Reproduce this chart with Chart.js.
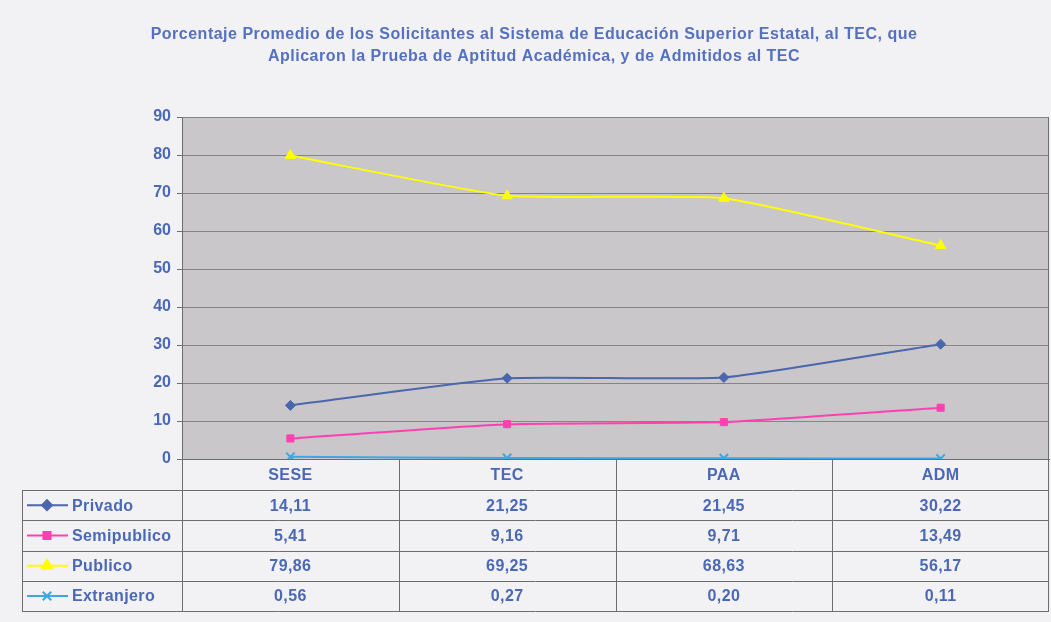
<!DOCTYPE html>
<html>
<head>
<meta charset="utf-8">
<script src="https://cdn.jsdelivr.net/npm/chart.js@4/dist/chart.umd.min.js"></script>
<style>
  html, body { margin: 0; padding: 0; background: #f2f1f4; }
  #wrap { width: 1051px; height: 622px; }
</style>
</head>
<body>
<div id="wrap"><canvas id="chart" width="1051" height="622"></canvas></div>
<script>
const TITLE = [
    'Porcentaje Promedio de los Solicitantes al Sistema de Educación Superior Estatal, al TEC, que',
    'Aplicaron la Prueba de Aptitud Académica, y de Admitidos al TEC'
];
const CATEGORIES = ['SESE', 'TEC', 'PAA', 'ADM'];
const SERIES_NAMES = ['Privado', 'Semipublico', 'Publico', 'Extranjero'];
const PRIVADO = [14.11, 21.25, 21.45, 30.22];
const SEMIPUBLICO = [5.41, 9.16, 9.71, 13.49];
const PUBLICO = [79.86, 69.25, 68.63, 56.17];
const EXTRANJERO = [0.56, 0.27, 0.20, 0.11];

const TEXT = '#4a68b6';
const FONT = "'Liberation Sans', Arial, sans-serif";
const LINE = '#6e6e6e';

const STYLES = [
    { color: '#4a66ac', pointStyle: 'rectRot', radius: 5 },
    { color: '#ff40b0', pointStyle: 'rect', radius: 5 },
    { color: '#ffff00', pointStyle: 'triangle', radius: 6 },
    { color: '#3ea6e4', pointStyle: 'crossRot', radius: 6 }
];

const fmt = v => v.toFixed(2).replace('.', ',');

const bgPlugin = {
    id: 'bg',
    beforeDraw(chart) {
        const { ctx, chartArea: a } = chart;
        ctx.save();
        ctx.fillStyle = '#f2f1f4';
        ctx.fillRect(0, 0, chart.width, chart.height);
        ctx.fillStyle = '#c9c7ca';
        ctx.fillRect(a.left, a.top, a.right - a.left, a.bottom - a.top);
        ctx.fillStyle = '#5570c0';
        ctx.font = 'bold 16px ' + FONT;
        ctx.letterSpacing = '0.5px';
        ctx.textAlign = 'center';
        ctx.textBaseline = 'middle';
        ctx.fillText(TITLE[0], 534, 35);
        ctx.fillText(TITLE[1], 534, 57);
        ctx.restore();
    }
};

const tablePlugin = {
    id: 'dataTable',
    afterDraw(chart) {
        const { ctx, chartArea: a, scales: { x } } = chart;
        const headH = 31, rowH = 30.3, legL = 22;
        const top = a.bottom, bodyTop = top + headH, bottom = bodyTop + rowH * 4;
        const step = (a.right - a.left) / CATEGORIES.length;
        ctx.save();
        ctx.strokeStyle = LINE;
        ctx.lineWidth = 1;
        ctx.beginPath();
        ctx.moveTo(Math.round(a.right) - 0.5, a.top);
        ctx.lineTo(Math.round(a.right) - 0.5, bottom);
        for (let i = 0; i < CATEGORIES.length; i++) {
            const xx = Math.round(a.left + step * i) + 0.5;
            ctx.moveTo(xx, top);
            ctx.lineTo(xx, bottom);
        }
        ctx.moveTo(legL + 0.5, bodyTop);
        ctx.lineTo(legL + 0.5, bottom);
        for (let r = 0; r <= 4; r++) {
            const yy = Math.round(bodyTop + rowH * r) + 0.5;
            ctx.moveTo(legL, yy);
            ctx.lineTo(a.right, yy);
        }
        ctx.stroke();

        ctx.fillStyle = TEXT;
        ctx.font = 'bold 16px ' + FONT;
        ctx.letterSpacing = '0.4px';
        ctx.textBaseline = 'middle';
        ctx.textAlign = 'center';
        CATEGORIES.forEach((c, i) => ctx.fillText(c, x.getPixelForValue(i), top + headH / 2 + 1));

        chart.data.datasets.forEach((ds, r) => {
            const cy = bodyTop + rowH * r + rowH / 2 + 1;
            ctx.textAlign = 'center';
            ctx.fillStyle = TEXT;
            ds.data.forEach((v, i) => ctx.fillText(fmt(v), x.getPixelForValue(i), cy));
            // legend key
            ctx.strokeStyle = ds.borderColor;
            ctx.fillStyle = ds.pointBackgroundColor;
            ctx.lineWidth = 2;
            ctx.beginPath();
            ctx.moveTo(27, cy - 1);
            ctx.lineTo(68, cy - 1);
            ctx.stroke();
            Chart.helpers.drawPoint(ctx, {
                pointStyle: ds.pointStyle, radius: ds.pointRadius, rotation: 0, borderWidth: ds.pointBorderWidth
            }, 47, cy - 1);
            ctx.textAlign = 'left';
            ctx.fillStyle = TEXT;
            ctx.fillText(ds.label, 72, cy);
        });
        ctx.restore();
    }
};

const seriesData = [PRIVADO, SEMIPUBLICO, PUBLICO, EXTRANJERO];

new Chart(document.getElementById('chart'), {
    type: 'line',
    data: {
        labels: CATEGORIES,
        datasets: SERIES_NAMES.map((name, i) => ({
            label: name,
            data: seriesData[i],
            borderColor: STYLES[i].color,
            backgroundColor: STYLES[i].color,
            pointBackgroundColor: STYLES[i].color,
            pointBorderColor: STYLES[i].color,
            pointStyle: STYLES[i].pointStyle,
            pointRadius: STYLES[i].radius,
            pointBorderWidth: STYLES[i].pointStyle === 'crossRot' ? 2 : 1,
            borderWidth: 2,
            tension: 0.15,
            fill: false
        }))
    },
    options: {
        responsive: false,
        animation: false,
        layout: { autoPadding: false, padding: { top: 117, right: 2, left: 0, bottom: 0 } },
        plugins: {
            legend: { display: false },
            title: { display: false },
            tooltip: { enabled: false }
        },
        scales: {
            x: {
                offset: true,
                grid: { display: false },
                border: { color: LINE },
                ticks: { display: false },
                afterFit: s => { s.height = 163; }
            },
            y: {
                min: 0,
                max: 90,
                ticks: { stepSize: 10, color: TEXT, font: { family: FONT, size: 16, weight: 'bold' }, padding: 6 },
                grid: { color: '#858385', tickLength: 5, tickColor: LINE },
                border: { color: LINE },
                afterFit: s => { s.width = 182; }
            }
        }
    },
    plugins: [bgPlugin, tablePlugin]
});
</script>
</body>
</html>
